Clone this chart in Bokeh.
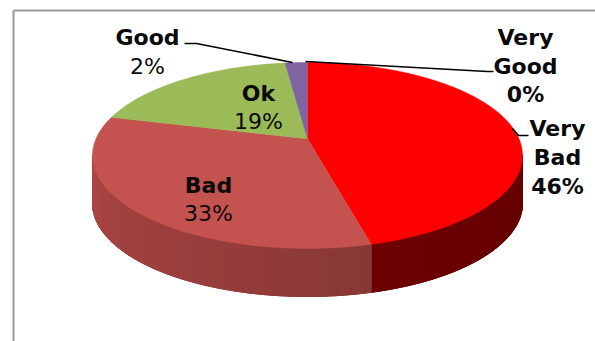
import numpy as np
from bokeh.plotting import figure
from bokeh.models import Range1d
from bokeh.core.properties import value
from bokeh.embed import file_html
from bokeh.resources import INLINE

# ---- data ----
categories = ["Very Good", "Very Bad", "Bad", "Ok", "Good"]
percent = [0, 46, 33, 19, 2]
top_colors = ["#4F81BD", "#FF0000", "#C4524E", "#9BBB59", "#8064A2"]
# side shading: (colour at right end of the visible front arc, colour at left end)
side_colors = [("#2C4D74", "#2C4D74"), ("#650000", "#760303"),
               ("#6E2D2C", "#AD4744"), ("#5F7530", "#7A9443"), ("#4D3C63", "#4D3C63")]

# label layout (pixel positions of line centres)
label_lines = [
    # (text, x, y, bold)
    ("Very", 525, 37, True), ("Good", 525, 66, True), ("0%", 525, 94, True),
    ("Very", 557, 128, True), ("Bad", 557, 157, True), ("46%", 557, 186, True),
    ("Bad", 208, 185, True), ("33%", 208, 213, False),
    ("Ok", 258, 93, True), ("19%", 258, 121, False),
    ("Good", 147, 37, True), ("2%", 147, 66, False),
]
leaders = [
    ([184, 196, 292], [43, 43, 62]),
    ([305, 487, 493], [61, 71, 71]),
    ([512, 518, 528], [128, 135, 135]),
]

# ---- geometry of the 3D pie (screen pixels) ----
W, H = 595, 341
cx, cy, rx, ry, depth = 307, 155, 215, 93, 48
shift = 0.18  # perspective shift of the pie apex toward the back

p = figure(width=W, height=H, x_range=Range1d(0, W), y_range=Range1d(H, 0),
           output_backend="svg", toolbar_location=None, min_border=0)
p.axis.visible = False
p.grid.visible = False
p.outline_line_color = None
p.background_fill_color = "white"
p.border_fill_color = "white"


def proj(theta_deg, dz=0.0):
    t = np.radians(np.asarray(theta_deg, dtype=float))
    u, v = np.cos(t), np.sin(t)
    d = 1 + shift * v
    u2 = u * np.sqrt(1 - shift ** 2) / d
    v2 = (v + shift) / d
    return cx + rx * u2, cy - ry * v2 + dz


def mix(c1, c2, f):
    a = [int(c1[i:i + 2], 16) for i in (1, 3, 5)]
    b = [int(c2[i:i + 2], 16) for i in (1, 3, 5)]
    return "#%02x%02x%02x" % tuple(int(round(a[k] + (b[k] - a[k]) * f)) for k in range(3))


# angles: start at 12 o'clock, clockwise
cum = np.cumsum([0] + percent)
starts = 90 - 360 * cum[:-1] / 100.0
ends = 90 - 360 * cum[1:] / 100.0

# visible front arc of the rim (original angles)
f_hi = -np.degrees(np.arcsin(shift))
f_lo = -180 - f_hi

base_x, base_y, base_c = [], [], []
sx, sy, sc = [], [], []
for i in range(len(categories)):
    a0, a1 = starts[i], ends[i]
    for sh in (0, -360, 360):
        hi = min(a0 + sh, f_hi)
        lo = max(a1 + sh, f_lo)
        if hi - lo <= 1e-6:
            continue
        th = np.linspace(hi, lo, max(4, int((hi - lo) * 2)))
        tx, ty = proj(th)
        bx, by = proj(th[::-1], depth)
        base_x.append(list(tx) + list(bx))
        base_y.append(list(ty) + list(by))
        base_c.append(mix(side_colors[i][0], side_colors[i][1], 0.5))
        n = max(1, int((hi - lo) / 1.5))
        edges = np.linspace(hi, lo, n + 1)
        for k in range(n):
            e0, e1 = edges[k], edges[k + 1]
            t2 = np.linspace(e0, e1, 3)
            qx, qy = proj(t2)
            rx2, ry2 = proj(t2[::-1], depth)
            sx.append(list(qx) + list(rx2))
            sy.append(list(qy) + list(ry2))
            frac = ((e0 + e1) / 2 - f_hi) / (f_lo - f_hi)
            sc.append(mix(side_colors[i][0], side_colors[i][1], frac))

p.patches(base_x, base_y, fill_color=base_c, line_color=base_c, line_width=1)
p.patches(sx, sy, fill_color=sc, line_color=sc, line_width=1)

# top faces
apex_x, apex_y = cx, cy - ry * shift
tx_all, ty_all, tc = [], [], []
for i in range(len(categories)):
    if percent[i] <= 0:
        continue
    th = np.linspace(starts[i], ends[i], max(4, int(abs(starts[i] - ends[i]) * 2)))
    ax, ay = proj(th)
    tx_all.append([apex_x] + list(ax))
    ty_all.append([apex_y] + list(ay))
    tc.append(top_colors[i])
p.patches(tx_all, ty_all, fill_color=tc, line_color=tc, line_width=0.5)

# frame
p.line([13, 13], [H, 10], line_color="#9A9A9A", line_width=2)
p.line([13, W], [10, 10], line_color="#9A9A9A", line_width=2)

# leader lines
for lx, ly in leaders:
    p.line(lx, ly, line_color="black", line_width=1.5)

# labels
for bold in (True, False):
    sel = [l for l in label_lines if l[3] == bold]
    p.text(x=[l[1] for l in sel], y=[l[2] for l in sel], text=[l[0] for l in sel],
           text_align="center", text_baseline="middle",
           text_font=value("DejaVu Sans"), text_font_size="22px",
           text_font_style="bold" if bold else "normal", text_color="#0A0A0A")

open("out.html", "w").write(file_html(p, INLINE))
